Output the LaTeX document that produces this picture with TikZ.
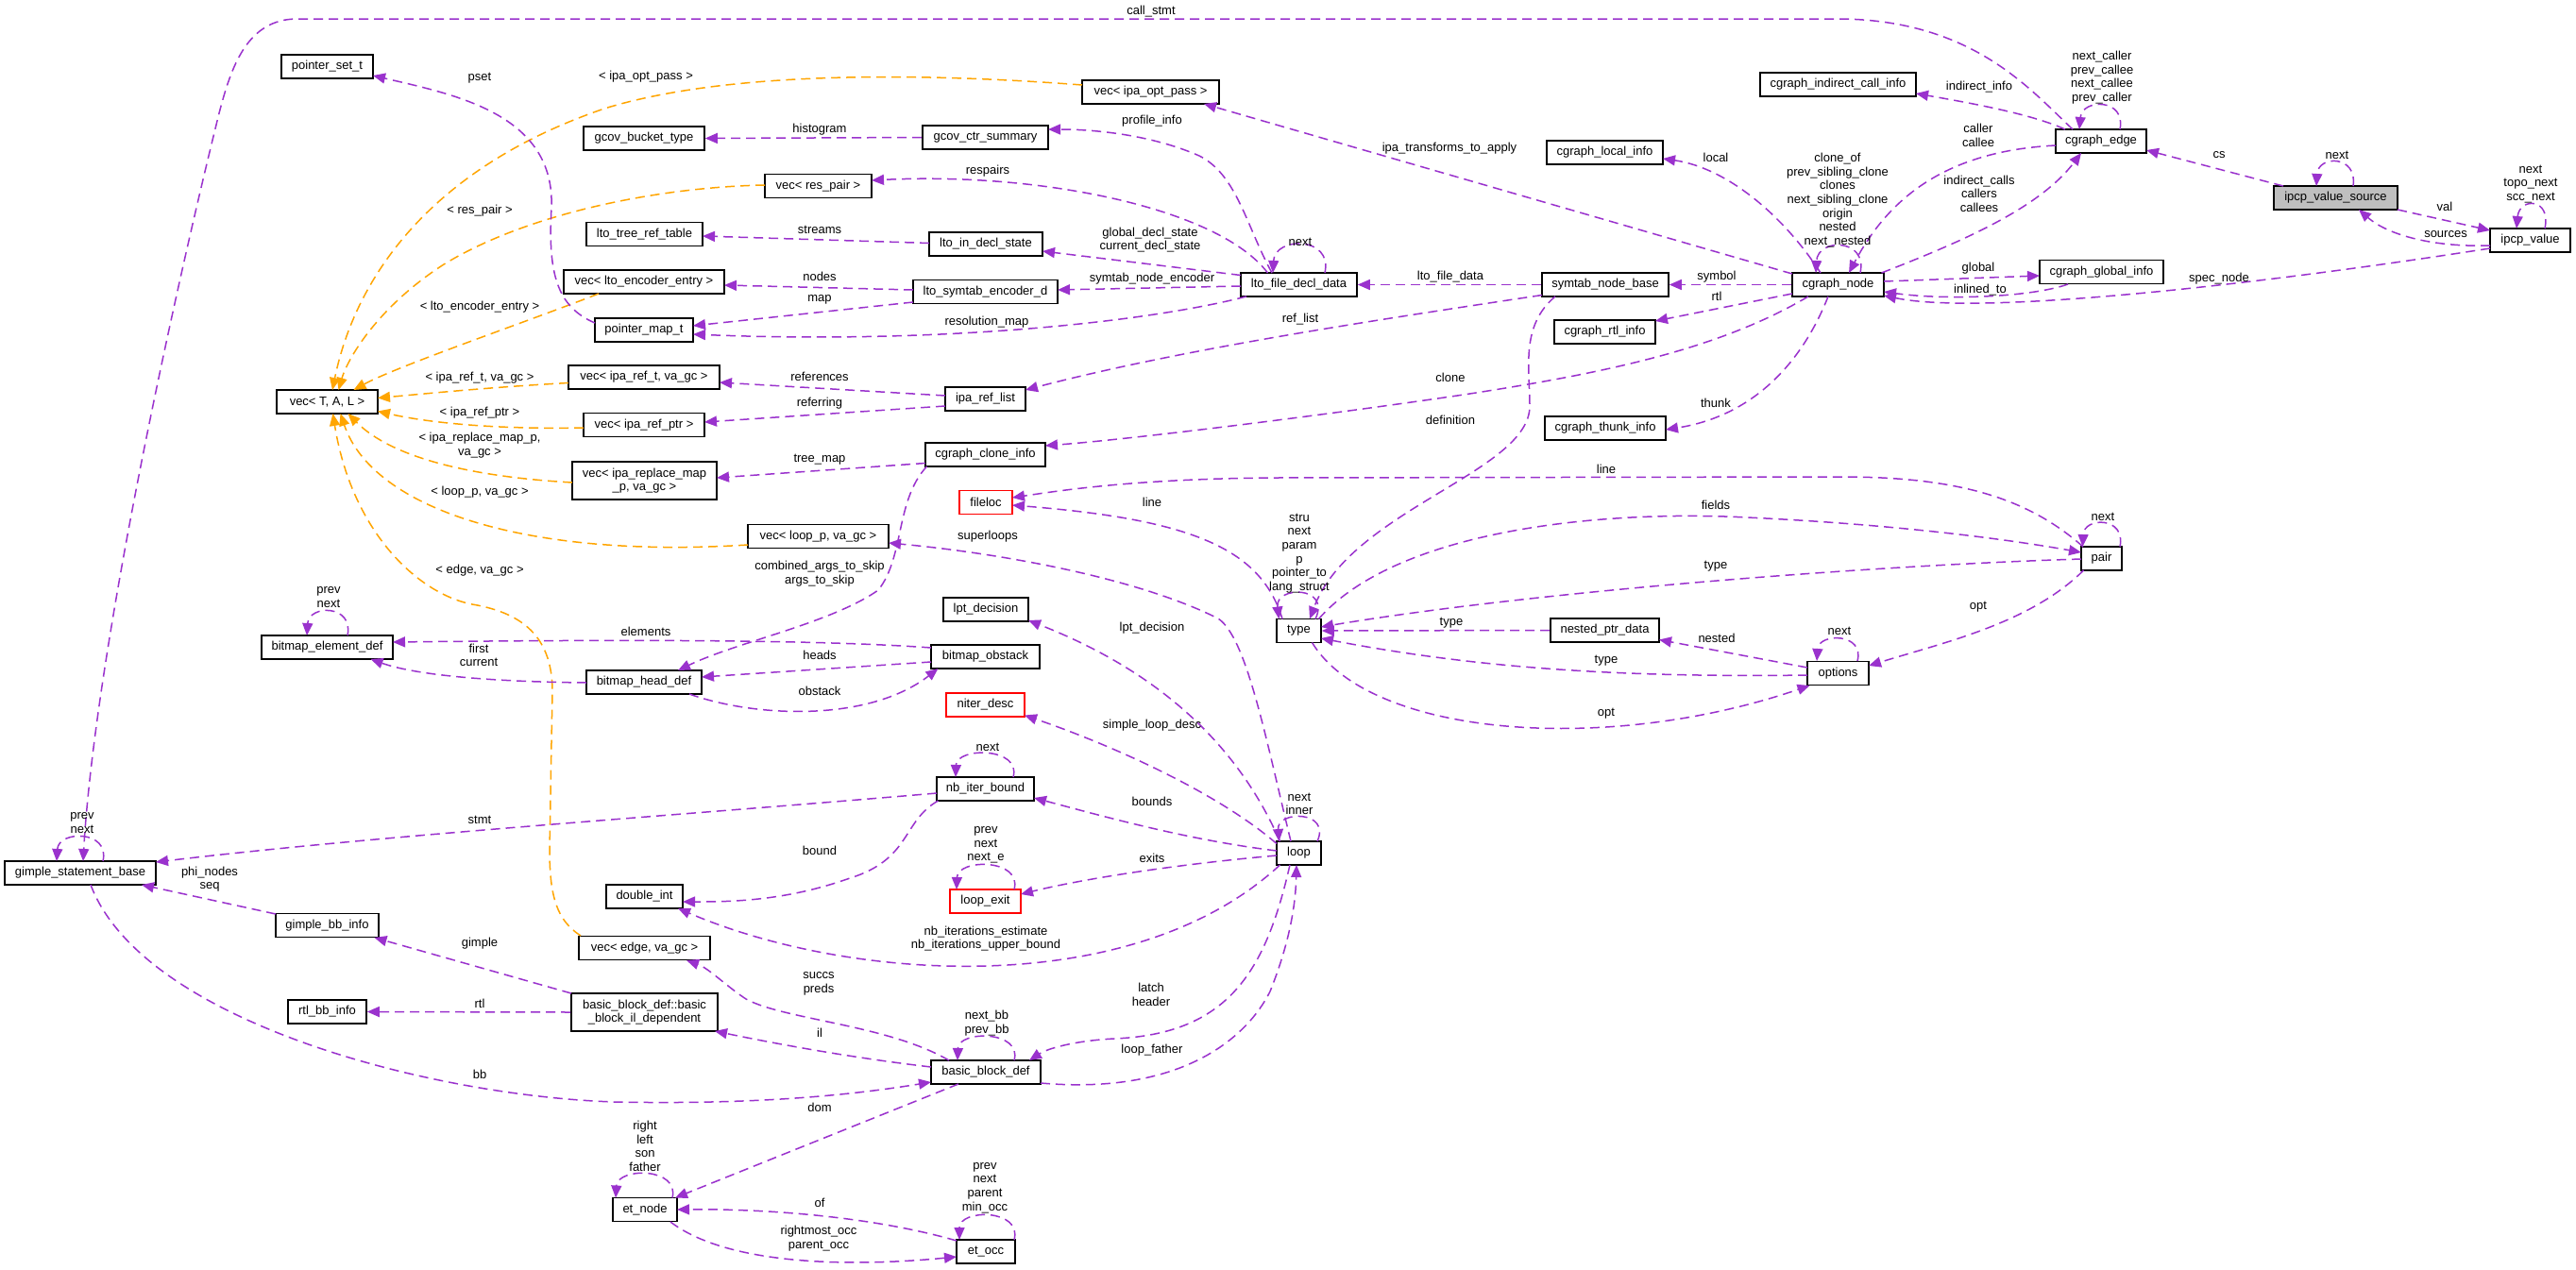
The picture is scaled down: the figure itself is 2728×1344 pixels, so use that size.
\documentclass[tikz,border=0pt]{standalone}
\usepackage{fontspec}
\setmainfont{Liberation Sans}
\usetikzlibrary{arrows.meta,calc}
\definecolor{edgepurple}{HTML}{9A32CD}
\definecolor{edgeorange}{HTML}{FFA500}
\definecolor{hlgray}{HTML}{BFBFBF}
\newcommand{\dxfont}{\fontsize{13}{14.6}\selectfont}
\begin{document}
\begin{tikzpicture}[x=1pt,y=-1pt,
  box/.style={draw=black,line width=1.6pt,fill=white,minimum height=25pt,inner sep=0pt,font=\dxfont,align=center},
  lbl/.style={inner sep=0pt,font=\dxfont,align=center},
  pe/.style={draw=edgepurple,line width=1.5pt,dash pattern=on 10pt off 6pt,-{Triangle[length=13pt,width=11pt]}},
  oe/.style={draw=edgeorange,line width=1.5pt,dash pattern=on 10pt off 6pt,-{Triangle[length=13pt,width=11pt]}}]
\fill[white] (0,0) rectangle (2728,1344);
\useasboundingbox (0,0) rectangle (2728,1344);

% ---------------- nodes ----------------
\node[box,minimum width=97pt] (pst) at (346.5,70.5) {pointer\_set\_t};
\node[box,minimum width=128pt] (gbt) at (682,146.5) {gcov\_bucket\_type};
\node[box,minimum width=123pt] (ltrt) at (682.5,248) {lto\_tree\_ref\_table};
\node[box,minimum width=170pt] (vlee) at (682,298.5) {vec< lto\_encoder\_entry >};
\node[box,minimum width=104pt] (pmt) at (682,349.5) {pointer\_map\_t};
\node[box,minimum width=160pt] (vira) at (682,399.5) {vec< ipa\_ref\_t, va\_gc >};
\node[box,minimum width=107pt] (vtal) at (346.5,425.5) {vec< T, A, L >};
\node[box,minimum width=128pt] (virp) at (682,450) {vec< ipa\_ref\_ptr >};
\node[box,minimum width=153pt,minimum height=40pt] (virm) at (682.5,509) {vec< ipa\_replace\_map\\\_p, va\_gc >};
\node[box,minimum width=149pt] (vlp) at (866.5,568) {vec< loop\_p, va\_gc >};
\node[box,minimum width=145pt] (viop) at (1218.5,97.5) {vec< ipa\_opt\_pass >};
\node[box,minimum width=133pt] (gcs) at (1043.5,145.5) {gcov\_ctr\_summary};
\node[box,minimum width=113pt] (vrp) at (866.5,197) {vec< res\_pair >};
\node[box,minimum width=120pt] (lids) at (1044,258.5) {lto\_in\_decl\_state};
\node[box,minimum width=153pt] (lsed) at (1043.5,309) {lto\_symtab\_encoder\_d};
\node[box,minimum width=85pt] (irl) at (1043.5,422.5) {ipa\_ref\_list};
\node[box,minimum width=123pt] (lfdd) at (1375.5,301.5) {lto\_file\_decl\_data};
\node[box,minimum width=134pt] (snb) at (1700,301.5) {symtab\_node\_base};
\node[box,minimum width=97pt] (cgn) at (1946.5,301.5) {cgraph\_node};
\node[box,minimum width=123pt] (cli) at (1699.5,161.5) {cgraph\_local\_info};
\node[box,minimum width=165pt] (cici) at (1946.5,89.5) {cgraph\_indirect\_call\_info};
\node[box,minimum width=107pt] (cri) at (1699.5,351.5) {cgraph\_rtl\_info};
\node[box,minimum width=128pt] (cti) at (1700,453.5) {cgraph\_thunk\_info};
\node[box,minimum width=96pt] (cge) at (2225,149.5) {cgraph\_edge};
\node[box,fill=hlgray,minimum width=131pt] (ivs) at (2473.5,209.5) {ipcp\_value\_source};
\node[box,minimum width=85pt] (iv) at (2679.5,254.5) {ipcp\_value};
\node[box,minimum width=131pt] (cgi) at (2225.5,288) {cgraph\_global\_info};
\node[box,minimum width=127pt] (cci) at (1043.5,481.5) {cgraph\_clone\_info};
\node[box,draw=red,minimum width=56pt] (floc) at (1044,532) {fileloc};
\node[box,minimum width=90pt] (lptd) at (1044,645.5) {lpt\_decision};
\node[box,minimum width=115pt] (bos) at (1043.5,695.5) {bitmap\_obstack};
\node[box,draw=red,minimum width=83pt] (nd) at (1043.5,746.5) {niter\_desc};
\node[box,minimum width=103pt] (nib) at (1043.5,835.5) {nb\_iter\_bound};
\node[box,draw=red,minimum width=75pt] (lex) at (1043.5,954.5) {loop\_exit};
\node[box,minimum width=116pt] (bbd) at (1044,1135.5) {basic\_block\_def};
\node[box,minimum width=62pt] (eto) at (1044,1325.5) {et\_occ};
\node[box,minimum width=139pt] (bed) at (346.5,685.5) {bitmap\_element\_def};
\node[box,minimum width=122pt] (bhd) at (682,722.5) {bitmap\_head\_def};
\node[box,minimum width=81pt] (dint) at (682.5,949.5) {double\_int};
\node[box,minimum width=139pt] (vev) at (682.5,1004) {vec< edge, va\_gc >};
\node[box,minimum width=155pt,minimum height=40pt] (bbil) at (682.5,1072) {basic\_block\_def::basic\\\_block\_il\_dependent};
\node[box,minimum width=160pt] (gsb) at (85,924.5) {gimple\_statement\_base};
\node[box,minimum width=109pt] (gbi) at (346.5,980) {gimple\_bb\_info};
\node[box,minimum width=83pt] (rbi) at (346.5,1071.5) {rtl\_bb\_info};
\node[box,minimum width=68pt] (etn) at (683,1281) {et\_node};
\node[box,minimum width=47pt] (typ) at (1375.5,668) {type};
\node[box,minimum width=115pt] (npd) at (1699.5,667.5) {nested\_ptr\_data};
\node[box,minimum width=65pt] (opts) at (1946.5,713) {options};
\node[box,minimum width=43pt] (pr) at (2225.5,591.5) {pair};
\node[box,minimum width=47pt] (lp) at (1375.5,903.5) {loop};

% ---------------- orange (template) edges ----------------
\draw[oe] ($(viop)+(-72.5,-7.5)$) .. controls (950,75) and (760,78) .. (640,115) .. controls (450,180) and (375,300) .. ($(vtal)+(5.5,-12.5)$);
\draw[oe] ($(vrp)+(-56.5,-1)$) .. controls (700,198) and (560,225) .. (470,280) .. controls (400,325) and (368,380) .. ($(vtal)+(12,-12.5)$);
\draw[oe] ($(vlee)+(-48,12.5)$) .. controls (560,340) and (420,388) .. ($(vtal)+(28,-12.5)$);
\draw[oe] ($(vira)+(-80,6)$) .. controls (520,410) and (450,417) .. ($(vtal)+(53.5,-4)$);
\draw[oe] ($(virp)+(-64,3)$) .. controls (520,455) and (450,447) .. ($(vtal)+(53.5,10)$);
\draw[oe] ($(virm)+(-76.5,2)$) .. controls (500,505) and (415,485) .. ($(vtal)+(22,12.5)$);
\draw[oe] ($(vlp)+(-74.5,9)$) .. controls (560,592) and (395,540) .. ($(vtal)+(14,12.5)$);
\draw[oe] ($(vev)+(-67.5,-13)$) .. controls (590,975) and (582,950) .. (582,900) -- (585,730) .. controls (584,680) and (560,650) .. (500,640) .. controls (440,628) and (372,560) .. ($(vtal)+(6,12.5)$);

% ---------------- purple (usage) edges ----------------
\draw[pe] ($(cge)+(-30,-12.5)$) .. controls (2150,95) and (2090,22) .. (1950,20) -- (315,20) .. controls (262,20) and (245,70) .. (232,120) .. controls (180,330) and (100,700) .. ($(gsb)+(3,-12.5)$);
\draw[pe] ($(pmt)+(-52,-7.5)$) .. controls (590,325) and (580,290) .. (584,220) .. controls (588,120) and (480,100) .. ($(pst)+(48.5,9.5)$);
\draw[pe] (gcs.west) -- (gbt.east);
\draw[pe] ($(lfdd)+(-28.5,-12.5)$) .. controls (1320,240) and (1310,185) .. (1270,165) .. controls (1220,143) and (1160,137) .. ($(gcs)+(66.5,-8.5)$);
\draw[pe] ($(lfdd)+(-33,-12.5)$) .. controls (1290,220) and (1100,182) .. ($(vrp)+(56.5,-6)$);
\draw[pe] ($(lids)+(-60,-1)$) -- ($(ltrt)+(61.5,2)$);
\draw[pe] ($(lfdd)+(-61.5,-10)$) -- ($(lids)+(60,7.5)$);
\draw[pe] ($(lsed)+(-76.5,-2)$) -- ($(vlee)+(85,3.5)$);
\draw[pe] ($(lfdd)+(-61.5,1.5)$) -- ($(lsed)+(76.5,-2)$);
\draw[pe] ($(lsed)+(-76.5,11)$) -- ($(pmt)+(52,-4.5)$);
\draw[pe] ($(lfdd)+(-55.5,12.5)$) .. controls (1220,340) and (1000,365) .. ($(pmt)+(52,4.5)$);
\draw[pe] ($(irl)+(-42.5,-3.5)$) -- ($(vira)+(80,5.5)$);
\draw[pe] ($(irl)+(-42.5,7.5)$) -- ($(virp)+(64,-3)$);
\draw[pe] ($(snb)+(-67,11)$) .. controls (1450,340) and (1250,370) .. ($(irl)+(42.5,-9.5)$);
\draw[pe] ($(lfdd)+(27.5,-12.5)$) .. controls (1412,250) and (1350,250) .. ($(lfdd)+(-27.5,-12.5)$);
\draw[pe] (snb.west) -- (lfdd.east);
\draw[pe] ($(cgn)+(-48.5,-11.5)$) -- ($(viop)+(56.5,12.5)$);
\draw[pe] (cgn.west) -- (snb.east);
\draw[pe] ($(cgn)+(-18.5,-12.5)$) .. controls (1890,230) and (1830,178) .. ($(cli)+(61.5,6.5)$);
\draw[pe] ($(cgn)+(23.5,-12.5)$) .. controls (1978,252) and (1925,252) .. ($(cgn)+(-23.5,-12.5)$);
\draw[pe] ($(cge)+(-48,4.5)$) .. controls (2060,160) and (2000,210) .. ($(cgn)+(11.5,-12.5)$);
\draw[pe] ($(cgn)+(46,-12.5)$) .. controls (2080,255) and (2160,220) .. ($(cge)+(-21,12.5)$);
\draw[pe] ($(cge)+(-38,-12.5)$) .. controls (2150,120) and (2080,108) .. ($(cici)+(82.5,9.5)$);
\draw[pe] ($(cge)+(20,-12.5)$) .. controls (2252,104) and (2205,104) .. ($(cge)+(-23,-12.5)$);
\draw[pe] ($(ivs)+(-55.5,-12.5)$) -- ($(cge)+(48,9.5)$);
\draw[pe] ($(ivs)+(18.5,-12.5)$) .. controls (2497,164) and (2455,164) .. ($(ivs)+(-20.5,-12.5)$);
\draw[pe] ($(ivs)+(65.5,12.5)$) -- ($(iv)+(-42.5,-10.5)$);
\draw[pe] ($(iv)+(-42.5,5.5)$) .. controls (2580,262) and (2530,250) .. ($(ivs)+(24.5,12.5)$);
\draw[pe] ($(iv)+(15.5,-12.5)$) .. controls (2702,209) and (2668,209) .. ($(iv)+(-14.5,-12.5)$);
\draw[pe] ($(iv)+(-42.5,8.5)$) .. controls (2400,300) and (2100,335) .. ($(cgn)+(48.5,11.5)$);
\draw[pe] ($(cgn)+(48.5,-3.5)$) -- ($(cgi)+(-65.5,4)$);
\draw[pe] ($(cgi)+(-35.5,13)$) .. controls (2150,315) and (2060,318) .. ($(cgn)+(48.5,7.5)$);
\draw[pe] ($(cgn)+(-48.5,9.5)$) -- ($(cri)+(53.5,-11.5)$);
\draw[pe] ($(cgn)+(-31.5,12.5)$) .. controls (1820,370) and (1700,395) .. (1550,418) .. controls (1400,440) and (1200,465) .. ($(cci)+(63.5,-9.5)$);
\draw[pe] ($(cgn)+(-10.5,12.5)$) .. controls (1910,380) and (1860,440) .. ($(cti)+(64,1.5)$);
\draw[pe] ($(snb)+(-53,12.5)$) .. controls (1610,345) and (1620,390) .. (1620,430) .. controls (1620,500) and (1430,540) .. ($(typ)+(11.5,-12.5)$);
\draw[pe] ($(pr)+(-19.5,-12.5)$) .. controls (2150,530) and (2080,505) .. (1950,505) -- (1350,506) .. controls (1200,507) and (1120,520) .. ($(floc)+(28,-5)$);
\draw[pe] ($(typ)+(-17.5,-12.5)$) .. controls (1335,580) and (1260,550) .. ($(floc)+(28,3)$);
\draw[pe] ($(typ)+(17.5,-12.5)$) .. controls (1410,620) and (1350,620) .. ($(typ)+(-21,-12.5)$);
\draw[pe] (npd.west) -- (typ.east);
\draw[pe] ($(opts)+(-32.5,-6)$) -- ($(npd)+(57.5,10)$);
\draw[pe] ($(opts)+(-32.5,2)$) .. controls (1700,718) and (1550,705) .. ($(typ)+(23.5,8)$);
\draw[pe] ($(typ)+(14,12.5)$) .. controls (1450,780) and (1700,800) .. ($(opts)+(-30,13)$);
\draw[pe] ($(opts)+(20.5,-13)$) .. controls (1975,670) and (1926,670) .. ($(opts)+(-22.5,-13)$);
\draw[pe] ($(pr)+(19.5,-12.5)$) .. controls (2252,547) and (2207,547) .. ($(pr)+(-20,-12.5)$);
\draw[pe] ($(pr)+(-19,12.5)$) .. controls (2150,660) and (2060,680) .. ($(opts)+(32.5,-8)$);
\draw[pe] ($(typ)+(21,-12.5)$) .. controls (1480,560) and (1700,540) .. (1850,548) .. controls (2000,555) and (2120,570) .. ($(pr)+(-21.5,-6.5)$);
\draw[pe] ($(pr)+(-21.5,0.5)$) .. controls (1950,600) and (1600,630) .. ($(typ)+(23.5,-4)$);
\draw[pe] ($(cci)+(-63.5,9)$) -- ($(virm)+(76.5,-3)$);
\draw[pe] ($(cci)+(-62,12.5)$) .. controls (948,530) and (958,590) .. (930,625) .. controls (880,660) and (780,680) .. ($(bhd)+(36,-12.5)$);
\draw[pe] ($(lp)+(-8.5,-12.5)$) .. controls (1340,780) and (1320,675) .. (1290,655) .. controls (1200,610) and (1050,585) .. ($(vlp)+(74.5,7)$);
\draw[pe] ($(lp)+(-20,-12.5)$) .. controls (1320,810) and (1250,720) .. ($(lptd)+(45,11.5)$);
\draw[pe] ($(lp)+(-23.5,-10)$) .. controls (1290,840) and (1180,790) .. ($(nd)+(41.5,11)$);
\draw[pe] ($(lp)+(-23.5,-2.5)$) .. controls (1260,890) and (1170,865) .. ($(nib)+(51.5,9.5)$);
\draw[pe] ($(nib)+(29.5,-12.5)$) .. controls (1082,791) and (1013,791) .. ($(nib)+(-31.5,-12.5)$);
\draw[pe] ($(nib)+(-51.5,4.5)$) .. controls (700,865) and (400,885) .. ($(gsb)+(80,-11.5)$);
\draw[pe] ($(nib)+(-50,12.5)$) .. controls (955,870) and (965,910) .. (900,930) .. controls (830,955) and (770,955) .. ($(dint)+(40.5,5.5)$);
\draw[pe] ($(lp)+(-23.5,2.5)$) .. controls (1250,915) and (1150,930) .. ($(lex)+(37.5,-7.5)$);
\draw[pe] ($(lex)+(30.5,-12.5)$) .. controls (1083,909) and (1014,909) .. ($(lex)+(-30.5,-12.5)$);
\draw[pe] ($(lp)+(-20,12.5)$) .. controls (1200,1060) and (900,1040) .. ($(dint)+(35.5,12.5)$);
\draw[pe] ($(lp)+(19.5,-12.5)$) .. controls (1410,858) and (1352,858) .. ($(lp)+(-21,-12.5)$);
\draw[pe] ($(lp)+(-9.5,12.5)$) .. controls (1340,1030) and (1300,1095) .. (1180,1100) .. controls (1140,1102) and (1110,1110) .. ($(bbd)+(46,-12.5)$);
\draw[pe] ($(bbd)+(58,11.5)$) .. controls (1250,1160) and (1320,1100) .. (1345,1050) .. controls (1365,1000) and (1372,960) .. ($(lp)+(-2.5,12.5)$);
\draw[pe] ($(bbd)+(30,-12.5)$) .. controls (1083,1091) and (1015,1091) .. ($(bbd)+(-30,-12.5)$);
\draw[pe] ($(bbd)+(-39,-12.5)$) .. controls (940,1085) and (830,1080) .. (790,1058) .. controls (770,1045) and (750,1025) .. ($(vev)+(44.5,13)$);
\draw[pe] ($(bbd)+(-58,-5.5)$) .. controls (900,1120) and (820,1105) .. ($(bbil)+(74.5,20)$);
\draw[pe] ($(bbil)+(-77.5,-20)$) -- ($(gbi)+(50,13)$);
\draw[pe] (bbil.west) -- (rbi.east);
\draw[pe] ($(gbi)+(-54.5,-12)$) -- ($(gsb)+(65,12.5)$);
\draw[pe] ($(gsb)+(24,-12.5)$) .. controls (117,879) and (62,879) .. ($(gsb)+(-25,-12.5)$);
\draw[pe] ($(gsb)+(11,12.5)$) .. controls (150,1080) and (450,1160) .. (650,1167) .. controls (800,1170) and (900,1160) .. ($(bbd)+(-58,10.5)$);
\draw[pe] ($(bbd)+(-29,12.5)$) -- ($(etn)+(32,-12.5)$);
\draw[pe] ($(etn)+(29,-12.5)$) .. controls (720,1236) and (654,1236) .. ($(etn)+(-31,-12.5)$);
\draw[pe] ($(eto)+(-31,-11.5)$) .. controls (930,1290) and (820,1280) .. ($(etn)+(34,0)$);
\draw[pe] ($(etn)+(27,13)$) .. controls (770,1340) and (900,1342) .. ($(eto)+(-31,5.5)$);
\draw[pe] ($(eto)+(30,-12.5)$) .. controls (1083,1280) and (1016,1280) .. ($(eto)+(-28,-12.5)$);
\draw[pe] ($(bed)+(21.5,-12.5)$) .. controls (375,640) and (327,640) .. ($(bed)+(-21.5,-12.5)$);
\draw[pe] ($(bos)+(-57.5,-9.5)$) .. controls (850,676) and (600,678) .. ($(bed)+(69.5,-5.5)$);
\draw[pe] ($(bhd)+(-61,0.5)$) .. controls (520,722) and (440,715) .. ($(bed)+(46,12.5)$);
\draw[pe] ($(bos)+(-57.5,5.5)$) -- ($(bhd)+(61,-5.5)$);
\draw[pe] ($(bhd)+(48,12.5)$) .. controls (800,760) and (920,765) .. ($(bos)+(-50,12.5)$);

% ---------------- labels ----------------
\node[lbl] (l1) at (1219,12) {call\_stmt};
\node[lbl] (l2) at (684,81) {< ipa\_opt\_pass >};
\node[lbl] (l3) at (508,83) {pset};
\node[lbl] (l4) at (868,137) {histogram};
\node[lbl] (l5) at (1220,128) {profile\_info};
\node[lbl] (l6) at (508,223) {< res\_pair >};
\node[lbl] (l7) at (1046,181) {respairs};
\node[lbl] (l8) at (868,243) {streams};
\node[lbl] (l9) at (1218,254) {global\_decl\_state\\current\_decl\_state};
\node[lbl] (l10) at (868,293) {nodes};
\node[lbl] (l11) at (1220,295) {symtab\_node\_encoder};
\node[lbl] (l12) at (868,317) {map};
\node[lbl] (l13) at (508,325) {< lto\_encoder\_entry >};
\node[lbl] (l14) at (1045,341) {resolution\_map};
\node[lbl] (l15) at (868,399) {references};
\node[lbl] (l16) at (508,400) {< ipa\_ref\_t, va\_gc >};
\node[lbl] (l17) at (868,427) {referring};
\node[lbl] (l18) at (508,437) {< ipa\_ref\_ptr >};
\node[lbl] (l19) at (508,471.5) {< ipa\_replace\_map\_p,\\va\_gc >};
\node[lbl] (l20) at (508,521) {< loop\_p, va\_gc >};
\node[lbl] (l21) at (508,604) {< edge, va\_gc >};
\node[lbl] (l22) at (348,632.5) {prev\\next};
\node[lbl] (l23) at (684,669) {elements};
\node[lbl] (l24) at (507,694) {first\\current};
\node[lbl] (l25) at (508,868) {stmt};
\node[lbl] (l26) at (87,871.5) {prev\\next};
\node[lbl] (l27) at (868,487) {tree\_map};
\node[lbl] (l28) at (1220,532) {line};
\node[lbl] (l29) at (1046,568) {superloops};
\node[lbl] (l30) at (868,607.5) {combined\_args\_to\_skip\\args\_to\_skip};
\node[lbl] (l31) at (1220,665) {lpt\_decision};
\node[lbl] (l32) at (868,694) {heads};
\node[lbl] (l33) at (868,732) {obstack};
\node[lbl] (l34) at (1220,768) {simple\_loop\_desc};
\node[lbl] (l35) at (1046,791) {next};
\node[lbl] (l36) at (1220,849) {bounds};
\node[lbl] (l37) at (868,901) {bound};
\node[lbl] (l38) at (1044,895) {prev\\next\\next\_e};
\node[lbl] (l39) at (1220,909) {exits};
\node[lbl] (l40) at (1044,994) {nb\_iterations\_estimate\\nb\_iterations\_upper\_bound};
\node[lbl] (l41) at (867,1042) {succs\\preds};
\node[lbl] (l42) at (1219,1053.5) {latch\\header};
\node[lbl] (l43) at (1045,1083.5) {next\_bb\\prev\_bb};
\node[lbl] (l44) at (868,1094) {il};
\node[lbl] (l45) at (1220,1112) {loop\_father};
\node[lbl] (l46) at (868,1173) {dom};
\node[lbl] (l47) at (683,1214) {right\\left\\son\\father};
\node[lbl] (l48) at (1043,1258) {prev\\next\\parent\\min\_occ};
\node[lbl] (l49) at (868,1274) {of};
\node[lbl] (l50) at (867,1311.5) {rightmost\_occ\\parent\_occ};
\node[lbl] (l51) at (222,931) {phi\_nodes\\seq};
\node[lbl] (l52) at (508,999) {gimple};
\node[lbl] (l53) at (508,1063) {rtl};
\node[lbl] (l54) at (508,1138) {bb};
\node[lbl] (l55) at (1535,157) {ipa\_transforms\_to\_apply};
\node[lbl] (l56) at (1817,167) {local};
\node[lbl] (l57) at (1946,212) {clone\_of\\prev\_sibling\_clone\\clones\\next\_sibling\_clone\\origin\\nested\\next\_nested};
\node[lbl] (l58) at (1377,256) {next};
\node[lbl] (l59) at (1536,293) {lto\_file\_data};
\node[lbl] (l60) at (1818,293) {symbol};
\node[lbl] (l61) at (1818,314) {rtl};
\node[lbl] (l62) at (1377,338) {ref\_list};
\node[lbl] (l63) at (1536,400) {clone};
\node[lbl] (l64) at (1817,427) {thunk};
\node[lbl] (l65) at (1536,445) {definition};
\node[lbl] (l66) at (2096,92) {indirect\_info};
\node[lbl] (l67) at (2226,82) {next\_caller\\prev\_callee\\next\_callee\\prev\_caller};
\node[lbl] (l68) at (2095,143.5) {caller\\callee};
\node[lbl] (l69) at (2096,205) {indirect\_calls\\callers\\callees};
\node[lbl] (l70) at (2350,164) {cs};
\node[lbl] (l71) at (2475,164) {next};
\node[lbl] (l72) at (2589,219) {val};
\node[lbl] (l73) at (2680,195) {next\\topo\_next\\scc\_next};
\node[lbl] (l74) at (2590,248) {sources};
\node[lbl] (l75) at (2095,284) {global};
\node[lbl] (l76) at (2097,307) {inlined\_to};
\node[lbl] (l77) at (2350,295) {spec\_node};
\node[lbl] (l78) at (1701,497) {line};
\node[lbl] (l79) at (1376,586) {stru\\next\\param\\p\\pointer\_to\\lang\_struct};
\node[lbl] (l80) at (1817,535) {fields};
\node[lbl] (l81) at (1817,600) {type};
\node[lbl] (l82) at (1537,660) {type};
\node[lbl] (l83) at (1948,668) {next};
\node[lbl] (l84) at (1818,676) {nested};
\node[lbl] (l85) at (1701,700) {type};
\node[lbl] (l86) at (1701,756) {opt};
\node[lbl] (l87) at (1376,851.5) {next\\inner};
\node[lbl] (l88) at (2227,547) {next};
\node[lbl] (l89) at (2095,643) {opt};
\end{tikzpicture}
\end{document}
